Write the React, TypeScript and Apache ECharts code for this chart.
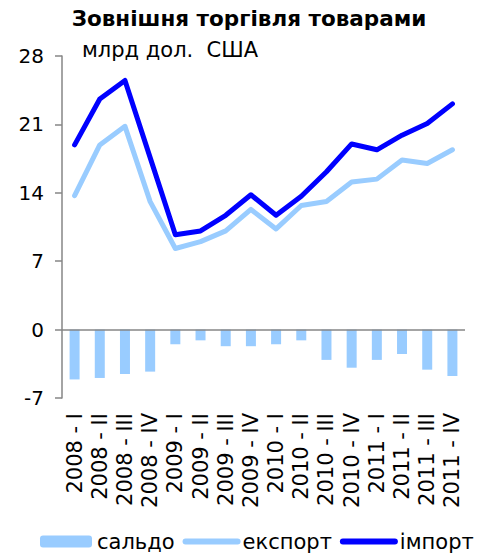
import React, { useEffect, useRef } from "react";
import * as echarts from "echarts";

const categories = [
  "2008 - I", "2008 - II", "2008 - III", "2008 - IV",
  "2009 - I", "2009 - II", "2009 - III", "2009 - IV",
  "2010 - I", "2010 - II", "2010 - III", "2010 - IV",
  "2011 - I", "2011 - II", "2011 - III", "2011 - IV",
];
const saldo = [-5.1, -4.95, -4.55, -4.3, -1.5, -1.1, -1.7, -1.7, -1.5, -1.1, -3.1, -3.9, -3.1, -2.5, -4.1, -4.75];
const exportVals = [13.7, 18.9, 20.8, 13.1, 8.3, 9.0, 10.1, 12.3, 10.3, 12.7, 13.1, 15.1, 15.4, 17.35, 17.0, 18.4];
const importVals = [18.9, 23.6, 25.5, 17.6, 9.7, 10.1, 11.7, 13.8, 11.7, 13.65, 16.15, 19.0, 18.4, 19.9, 21.1, 23.1];
const yMin = -7;
const yMax = 28;
const yInterval = 7;

const FONT = "DejaVu Sans";

export default function App() {
  const ref = useRef<HTMLDivElement>(null);
  useEffect(() => {
    if (!ref.current) return;
    const chart = echarts.init(ref.current, null, { renderer: "svg" });
    chart.setOption({
      animation: false,
      backgroundColor: "#ffffff",
      textStyle: { fontFamily: FONT, color: "#000" },
      title: {
        text: "Зовнішня торгівля товарами",
        left: 249,
        textAlign: "center",
        top: 7,
        padding: 0,
        textStyle: { fontFamily: FONT, fontSize: 21.5, fontWeight: "bold", color: "#000" },
      },
      graphic: [
        {
          type: "text",
          left: 82,
          top: 39,
          style: { text: "млрд дол.  США", fontFamily: FONT, fontSize: 21, fill: "#000" },
        },
      ],
      legend: {
        left: 40,
        top: 531,
        padding: 0,
        itemWidth: 52,
        itemHeight: 12,
        itemGap: 8,
        textStyle: { fontFamily: FONT, fontSize: 21, color: "#000" },
        data: [
          { name: "сальдо" },
          { name: "експорт", itemStyle: { opacity: 0 }, lineStyle: { width: 6, cap: "round" } },
          { name: "імпорт", itemStyle: { opacity: 0 }, lineStyle: { width: 6, cap: "round" } },
        ],
      },
      grid: { left: 62, right: 13, top: 56, bottom: 157, containLabel: false },
      xAxis: {
        type: "category",
        data: categories,
        axisLine: { show: false, onZero: false },
        axisTick: { show: false },
        axisLabel: {
          rotate: 90,
          interval: 0,
          margin: 15,
          fontFamily: FONT,
          fontSize: 21,
          color: "#000",
        },
      },
      yAxis: {
        type: "value",
        min: yMin,
        max: yMax,
        interval: yInterval,
        axisLine: { show: true, lineStyle: { color: "#868686", width: 1.5 } },
        axisTick: { show: true, length: 7, lineStyle: { color: "#868686", width: 1.5 } },
        splitLine: { show: false },
        axisLabel: { fontFamily: FONT, fontSize: 20, color: "#000", margin: 18 },
      },
      series: [
        {
          name: "сальдо",
          type: "bar",
          data: saldo,
          barWidth: 10,
          itemStyle: { color: "#99CCFF" },
          markLine: {
            silent: true,
            symbol: "none",
            label: { show: false },
            lineStyle: { color: "#868686", width: 1.5, type: "solid" },
            data: [{ yAxis: 0 }],
          },
        },
        {
          name: "експорт",
          type: "line",
          data: exportVals,
          symbol: "none",
          lineStyle: { color: "#99CCFF", width: 5, cap: "round", join: "round" },
          itemStyle: { color: "#99CCFF" },
        },
        {
          name: "імпорт",
          type: "line",
          data: importVals,
          symbol: "none",
          lineStyle: { color: "#0000FF", width: 5, cap: "round", join: "round" },
          itemStyle: { color: "#0000FF" },
        },
      ],
    });
    return () => chart.dispose();
  }, []);
  return (
    <div
      ref={ref}
      style={{ position: "fixed", left: 0, top: 0, width: 478, height: 555 }}
    />
  );
}
